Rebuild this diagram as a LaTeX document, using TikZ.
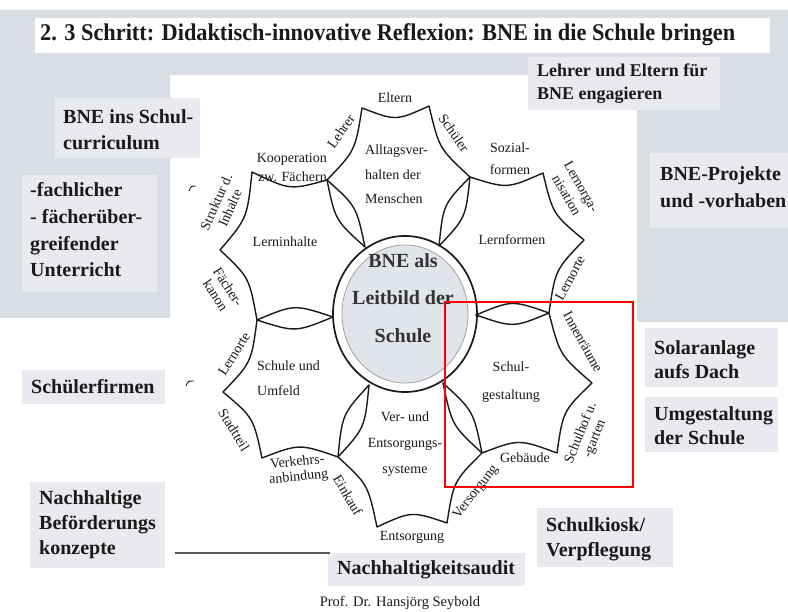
\documentclass[tikz,border=0pt]{standalone}
\usepackage{fontspec}
\usepackage{graphicx}
\setmainfont{Liberation Serif}
\usetikzlibrary{calc}
\definecolor{bggrey}{HTML}{D9DDE4}
\definecolor{boxgrey}{HTML}{E8EAEF}
\definecolor{discgrey}{HTML}{E2E4EC}
\definecolor{inkc}{HTML}{1A1A1A}
\def\lensf{0.2}
\def\outf{0.2}
\begin{document}
\begin{tikzpicture}[x=1pt,y=1pt,
  cellline/.style={draw=inkc, line width=1.4pt, line join=round, line cap=round},
  small/.style={font=\fontsize{14}{16}\selectfont, inner sep=0pt, text=inkc, align=center},
  boxtext/.style={font=\bfseries\fontsize{20}{26}\selectfont, inner sep=0pt, align=left, anchor=west, text=inkc},
  boxfill/.style={fill=boxgrey},
  bigtext/.style={font=\bfseries\fontsize{20}{37.5}\selectfont, inner sep=0pt, align=center, text=black!80}
]
% background
\fill[white] (0,-612) rectangle (788,0);
\useasboundingbox (0,-612) rectangle (788,0);
\fill[bggrey] (0,-10) -- (788,-10) -- (788,-322) -- (637,-322) -- (637,-75) -- (170,-75) -- (170,-318) -- (0,-318) -- cycle;
% title
\fill[white] (35,-18) rectangle (770,-53);
\node[anchor=west, inner sep=0pt, text=inkc, font=\bfseries\fontsize{24}{28}\selectfont] (title) at (40,-35)
  {\scalebox{0.93}[1]{2. 3 Schritt: Didaktisch-innovative Reflexion: BNE in die Schule bringen}};

% vertices
\coordinate (I1) at (365,-247);
\coordinate (I2) at (439,-246);
\coordinate (I3) at (476,-315);
\coordinate (I4) at (443,-383);
\coordinate (I5) at (369,-385);
\coordinate (I6) at (333,-317);
\coordinate (M12) at (470,-177);
\coordinate (M23) at (549,-313);
\coordinate (M34) at (482,-453);
\coordinate (M45) at (338,-457);
\coordinate (M56) at (257,-320);
\coordinate (M61) at (327,-180);
\coordinate (A1) at (362,-108);
\coordinate (A2) at (429,-106);
\coordinate (B1) at (543,-173);
\coordinate (B2) at (584,-240);
\coordinate (C1) at (592,-383);
\coordinate (C2) at (557,-453);
\coordinate (D1) at (447,-523);
\coordinate (D2) at (377,-527);
\coordinate (E1) at (262,-458);
\coordinate (E2) at (223,-392);
\coordinate (F1) at (220,-250);
\coordinate (F2) at (252,-172);
\coordinate (cT) at (398,-177);
\coordinate (cUR) at (510,-244);
\coordinate (cLR) at (517,-383);
\coordinate (cB) at (410,-455);
\coordinate (cLL) at (297,-388);
\coordinate (cUL) at (292,-247);
\coordinate (ring) at (405,-314);

% central disc and ring
\fill[discgrey, draw=gray!75, line width=0.8pt] (ring) ellipse [x radius=63pt, y radius=69pt];
\draw[inkc, line width=1.7pt] (ring) ellipse [x radius=72pt, y radius=78pt];

% cells
\draw[cellline] (I1) .. controls ($(I1)!.5!(M61)!\lensf!(cT)$) .. (M61)
  .. controls ($(M61)!.5!(A1)!\outf!(cT)$) .. (A1)
  .. controls ($(A1)!.5!(A2)!\outf!(cT)$) .. (A2)
  .. controls ($(A2)!.5!(M12)!\outf!(cT)$) .. (M12)
  .. controls ($(M12)!.5!(I2)!\lensf!(cT)$) .. (I2);
\draw[cellline] (I2) .. controls ($(I2)!.5!(M12)!\lensf!(cUR)$) .. (M12)
  .. controls ($(M12)!.5!(B1)!\outf!(cUR)$) .. (B1)
  .. controls ($(B1)!.5!(B2)!\outf!(cUR)$) .. (B2)
  .. controls ($(B2)!.5!(M23)!\outf!(cUR)$) .. (M23)
  .. controls ($(M23)!.5!(I3)!\lensf!(cUR)$) .. (I3);
\draw[cellline] (I3) .. controls ($(I3)!.5!(M23)!\lensf!(cLR)$) .. (M23)
  .. controls ($(M23)!.5!(C1)!\outf!(cLR)$) .. (C1)
  .. controls ($(C1)!.5!(C2)!\outf!(cLR)$) .. (C2)
  .. controls ($(C2)!.5!(M34)!\outf!(cLR)$) .. (M34)
  .. controls ($(M34)!.5!(I4)!\lensf!(cLR)$) .. (I4);
\draw[cellline] (I4) .. controls ($(I4)!.5!(M34)!\lensf!(cB)$) .. (M34)
  .. controls ($(M34)!.5!(D1)!\outf!(cB)$) .. (D1)
  .. controls ($(D1)!.5!(D2)!\outf!(cB)$) .. (D2)
  .. controls ($(D2)!.5!(M45)!\outf!(cB)$) .. (M45)
  .. controls ($(M45)!.5!(I5)!\lensf!(cB)$) .. (I5);
\draw[cellline] (I5) .. controls ($(I5)!.5!(M45)!\lensf!(cLL)$) .. (M45)
  .. controls ($(M45)!.5!(E1)!\outf!(cLL)$) .. (E1)
  .. controls ($(E1)!.5!(E2)!\outf!(cLL)$) .. (E2)
  .. controls ($(E2)!.5!(M56)!\outf!(cLL)$) .. (M56)
  .. controls ($(M56)!.5!(I6)!\lensf!(cLL)$) .. (I6);
\draw[cellline] (I6) .. controls ($(I6)!.5!(M56)!\lensf!(cUL)$) .. (M56)
  .. controls ($(M56)!.5!(F1)!\outf!(cUL)$) .. (F1)
  .. controls ($(F1)!.5!(F2)!\outf!(cUL)$) .. (F2)
  .. controls ($(F2)!.5!(M61)!\outf!(cUL)$) .. (M61)
  .. controls ($(M61)!.5!(I1)!\lensf!(cUL)$) .. (I1);

\node[bigtext] (leitbild) at (403,-298) {BNE als\\Leitbild der\\Schule};

% cell labels
\node[small, align=left, anchor=west, font=\fontsize{14}{24.5}\selectfont] (alltag) at (365,-174.5) {Alltagsver-\\halten der\\Menschen};
\node[small] (lernformen) at (512,-240) {Lernformen};
\node[small, font=\fontsize{14}{28}\selectfont] (schulgest) at (511,-382) {Schul-\\gestaltung};
\node[small, font=\fontsize{14}{26}\selectfont] (verents) at (405,-444) {Ver- und\\Entsorgungs-\\systeme};
\node[small, align=left, anchor=west, font=\fontsize{14}{25}\selectfont] (schumf) at (257,-378.5) {Schule und\\Umfeld};
\node[small] (lerninh) at (285,-242) {Lerninhalte};

% edge labels
\node[small] (eltern) at (395,-98) {Eltern};
\node[small, rotate=55] (lehrer) at (341,-131) {Lehrer};
\node[small, rotate=-55] (schueler) at (454,-133) {Schüler};
\node[small, font=\fontsize{14}{22}\selectfont] (sozial) at (510,-159) {Sozial-\\formen};
\node[small, rotate=-60, font=\fontsize{14}{17}\selectfont] (lernorga) at (574,-191) {Lernorga-\\nisation};
\node[small, rotate=62] (lernorteR) at (570,-278) {Lernorte};
\node[small, rotate=-61] (innen) at (583,-342) {Innenräume};
\node[small, rotate=68, font=\fontsize{14}{15}\selectfont] (schulhof) at (588,-436) {Schulhof u.\\-garten};
\node[small] (gebaeude) at (525,-458) {Gebäude};
\node[small, rotate=52] (versorgung) at (476,-492) {Versorgung};
\node[small] (entsorgung) at (412,-537) {Entsorgung};
\node[small, rotate=-60] (einkauf) at (348,-495) {Einkauf};
\node[small, rotate=6, font=\fontsize{14}{15}\selectfont] (verkehr) at (298,-470) {Verkehrs-\\anbindung};
\node[small, rotate=-58] (stadtteil) at (234,-430) {Stadtteil};
\node[small, rotate=58] (lernorteL) at (234,-354) {Lernorte};
\node[small, rotate=-57, font=\fontsize{14}{15}\selectfont] (faecher) at (222,-291) {Fächer-\\kanon};
\node[small, rotate=66, font=\fontsize{14}{15}\selectfont] (struktur) at (223,-205) {Struktur d.\\Inhalte};
\node[small, align=right, anchor=east, font=\fontsize{14}{19}\selectfont] (koop) at (327,-167.5) {Kooperation\\zw. Fächern};

% scan marks
\draw[inkc, line width=0.9pt] (189,-191) .. controls (191,-186) .. (196,-186);
\draw[inkc, line width=0.9pt] (186,-386) .. controls (188,-381) .. (194,-381);

% outside boxes
\fill[boxfill] (528,-57) rectangle (720,-110);
\node[boxtext, font=\bfseries\fontsize{18}{23}\selectfont] (lehrereltern) at (537,-84) {Lehrer und Eltern für\\BNE engagieren};
\fill[boxfill] (650,-153) rectangle (788,-228);
\node[boxtext, font=\bfseries\fontsize{20}{27}\selectfont] (projekte) at (660,-187) {BNE-Projekte\\und -vorhaben};
\fill[boxfill] (645,-328) rectangle (778,-387);
\node[boxtext, font=\bfseries\fontsize{20}{24}\selectfont] (solar) at (654,-360) {Solaranlage\\aufs Dach};
\fill[boxfill] (645,-397) rectangle (778,-452);
\node[boxtext, font=\bfseries\fontsize{20}{24}\selectfont] (umgest) at (654,-426) {Umgestaltung\\der Schule};
\fill[boxfill] (537,-508) rectangle (673,-567);
\node[boxtext, font=\bfseries\fontsize{20}{25}\selectfont] (kiosk) at (546,-539) {Schulkiosk/\\Verpflegung};
\fill[boxfill] (328,-553) rectangle (525,-586);
\node[boxtext] (audit) at (337,-570) {Nachhaltigkeitsaudit};
\fill[boxfill] (55,-98) rectangle (200,-158);
\node[boxtext, font=\bfseries\fontsize{20}{26}\selectfont] (curriculum) at (63,-130) {BNE ins Schul-\\curriculum};
\fill[boxfill] (22,-175) rectangle (157,-292);
\node[boxtext, font=\bfseries\fontsize{20}{26.7}\selectfont] (fachlich) at (30,-230) {-fachlicher\\- fächerüber-\\greifender\\Unterricht};
\fill[boxfill] (22,-370) rectangle (165,-404);
\node[boxtext] (firmen) at (31,-387) {Schülerfirmen};
\fill[boxfill] (30,-482) rectangle (165,-568);
\node[boxtext, font=\bfseries\fontsize{20}{25}\selectfont] (befoerd) at (39,-525) {Nachhaltige\\Beförderungs\\konzepte};

% rule to audit
\coordinate (ruleStart) at (175,-553);
\coordinate (ruleEnd) at (330,-553);
\draw[gray!70!black, line width=1.1pt] (ruleStart) -- (ruleEnd);

\node[inner sep=0pt, text=inkc, font=\fontsize{14.5}{16}\selectfont] (prof) at (400,-603) {Prof. Dr. Hansjörg Seybold};

% red frame
\draw[red, line width=2pt] (445,-302) rectangle (633,-487);
\end{tikzpicture}
\end{document}
